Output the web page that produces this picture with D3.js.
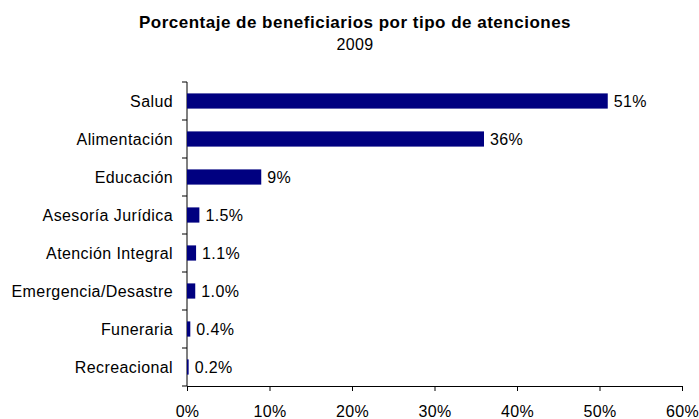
<!DOCTYPE html>
<html lang="en">
<head>
<meta charset="utf-8">
<title>Porcentaje de beneficiarios</title>
<script src="https://d3js.org/d3.v7.min.js"></script>
<style>
  body { margin: 0; background: #fff; }
  text { font-family: "Liberation Sans", Arial, sans-serif; fill: #000; }
</style>
</head>
<body>
<script>
// data
var categorias = ["Salud", "Alimentación", "Educación", "Asesoría Jurídica",
                  "Atención Integral", "Emergencia/Desastre", "Funeraria", "Recreacional"];
var valores = [51, 36, 9, 1.5, 1.1, 1.0, 0.4, 0.2];
var etiquetas = ["51%", "36%", "9%", "1.5%", "1.1%", "1.0%", "0.4%", "0.2%"];
var ticksX = [0, 10, 20, 30, 40, 50, 60];

var W = 699, H = 419;
var margin = {top: 82, right: 17, bottom: 33, left: 187};
var width = W - margin.left - margin.right,
    height = H - margin.top - margin.bottom;

var svg = d3.select("body").append("svg")
    .attr("width", W).attr("height", H);

// titles
svg.append("text").attr("x", 355).attr("y", 28)
    .attr("text-anchor", "middle").style("font-size", "17px").style("font-weight", "bold")
    .style("letter-spacing", "0.5px")
    .text("Porcentaje de beneficiarios por tipo de atenciones");
svg.append("text").attr("x", 355).attr("y", 50)
    .attr("text-anchor", "middle").style("font-size", "16px")
    .style("letter-spacing", "0.4px")
    .text("2009");

var g = svg.append("g").attr("transform", "translate(" + margin.left + "," + margin.top + ")");

var x = d3.scaleLinear().domain([0, 60]).range([0, width]);
var y = d3.scaleBand().domain(categorias).range([0, height]).paddingInner(0.6).paddingOuter(0.3);

// x axis
var xAxis = g.append("g").attr("transform", "translate(0," + height + ")")
    .call(d3.axisBottom(x).tickValues(ticksX).tickFormat(function(d) { return d + "%"; })
        .tickSize(5).tickPadding(15));
xAxis.select(".domain").attr("stroke", "#000");
xAxis.selectAll(".tick line").attr("stroke", "#000");
xAxis.selectAll("text").style("font-size", "16px").style("letter-spacing", "0.3px")
    .style("font-family", "'Liberation Sans', Arial, sans-serif").attr("fill", "#000");

// y axis: ticks between categories
var bandStep = height / categorias.length;
g.append("line").attr("x1", 0).attr("x2", 0).attr("y1", 0).attr("y2", height)
    .attr("stroke", "#000");
g.selectAll(".ytick").data(d3.range(categorias.length + 1)).enter().append("line")
    .attr("class", "ytick")
    .attr("x1", -5).attr("x2", 0)
    .attr("y1", function(i) { return i * bandStep; })
    .attr("y2", function(i) { return i * bandStep; })
    .attr("stroke", "#000");
g.selectAll(".ylabel").data(categorias).enter().append("text")
    .attr("class", "ylabel")
    .attr("x", -14)
    .attr("y", function(d) { return y(d) + y.bandwidth() / 2; })
    .attr("dy", "0.35em")
    .attr("text-anchor", "end")
    .style("font-size", "16px")
    .style("letter-spacing", "0.4px")
    .text(function(d) { return d; });

// bars
g.selectAll(".bar").data(valores).enter().append("rect")
    .attr("class", "bar")
    .attr("x", 0)
    .attr("y", function(d, i) { return y(categorias[i]); })
    .attr("width", function(d) { return x(d); })
    .attr("height", y.bandwidth())
    .attr("fill", "#000080");

// value labels
g.selectAll(".val").data(valores).enter().append("text")
    .attr("class", "val")
    .attr("x", function(d) { return x(d) + 6; })
    .attr("y", function(d, i) { return y(categorias[i]) + y.bandwidth() / 2; })
    .attr("dy", "0.35em")
    .style("font-size", "16px")
    .style("letter-spacing", "0.4px")
    .text(function(d, i) { return etiquetas[i]; });
</script>
</body>
</html>
